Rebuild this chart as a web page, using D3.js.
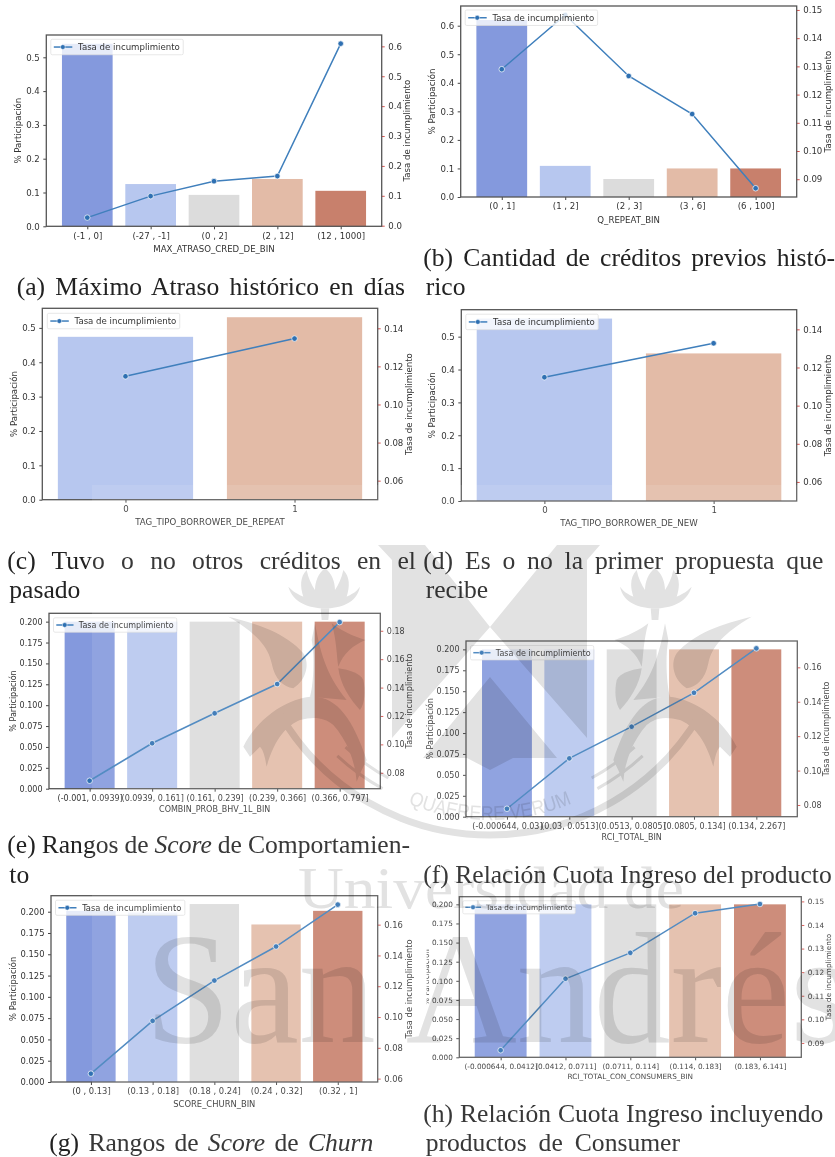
<!DOCTYPE html>
<html>
<head>
<meta charset="utf-8">
<script src="https://cdn.jsdelivr.net/npm/d3@7"></script>
<style>
  html, body { margin: 0; padding: 0; background: #fff; }
  svg { display: block; }
  .plot text { font-family: "DejaVu Sans", sans-serif; fill: #333; }
  .caption { font-family: "Liberation Serif", serif; fill: #222; font-size: 25.6px; }
</style>
</head>
<body>
<div id="chart"></div>
<script>
const legendLabel = "Tasa de incumplimiento";
const leftLabel = "% Participación";

// (a)
const catsA = ["(-1 , 0]", "(-27 , -1]", "(0 , 2]", "(2 , 12]", "(12 , 1000]"];
const barsA = [0.54, 0.125, 0.093, 0.14, 0.105];
const rateA = [0.027, 0.099, 0.149, 0.166, 0.609];
// (b)
const catsB = ["(0 , 1]", "(1 , 2]", "(2 , 3]", "(3 , 6]", "(6 , 100]"];
const barsB = [0.62, 0.109, 0.063, 0.1, 0.1];
const rateB = [0.129, 0.1482, 0.1266, 0.1131, 0.0868];
// (c)
const catsC = ["0", "1"];
const barsC = [0.474, 0.531];
const rateC = [0.1148, 0.1346];
// (d)
const catsD = ["0", "1"];
const barsD = [0.555, 0.449];
const rateD = [0.1149, 0.1327];
// (e)
const catsE = ["(-0.001, 0.0939]", "(0.0939, 0.161]", "(0.161, 0.239]", "(0.239, 0.366]", "(0.366, 0.797]"];
const barsE = [0.2, 0.2, 0.2, 0.2, 0.2];
const rateE = [0.0744, 0.1008, 0.1219, 0.1425, 0.1861];
// (f)
const catsF = ["(-0.000644, 0.03]", "(0.03, 0.0513]", "(0.0513, 0.0805]", "(0.0805, 0.134]", "(0.134, 2.267]"];
const barsF = [0.2, 0.2, 0.2, 0.2, 0.2];
const rateF = [0.0778, 0.1071, 0.1255, 0.1452, 0.171];
// (g)
const catsG = ["(0 , 0.13]", "(0.13 , 0.18]", "(0.18 , 0.24]", "(0.24 , 0.32]", "(0.32 , 1]"];
const barsG = [0.201, 0.199, 0.209, 0.185, 0.201];
const rateG = [0.0632, 0.0975, 0.1237, 0.1458, 0.173];
// (h)
const catsH = ["(-0.000644, 0.0412]", "(0.0412, 0.0711]", "(0.0711, 0.114]", "(0.114, 0.183]", "(0.183, 6.141]"];
const barsH = [0.2, 0.2, 0.2, 0.2, 0.2];
const rateH = [0.0869, 0.1172, 0.1282, 0.145, 0.1489];

const ticksTenth = [0, 0.1, 0.2, 0.3, 0.4, 0.5];
const ticksQuarter = [0, 0.025, 0.05, 0.075, 0.1, 0.125, 0.15, 0.175, 0.2];

const coolwarm5 = ["#8499dd", "#b7c7ef", "#dcdcdc", "#e3bba7", "#c8806c"];
const coolwarm2 = ["#b7c7ef", "#e3bba7"];

const width = 835, height = 1157;

const svg = d3.select("#chart").append("svg").attr("width", width).attr("height", height);
svg.append("rect").attr("width", width).attr("height", height).attr("fill", "#fff");

const defs = svg.append("defs");
defs.append("filter").attr("id", "soft")
    .attr("filterUnits", "userSpaceOnUse")
    .attr("x", 0).attr("y", 0).attr("width", width).attr("height", height)
    .append("feGaussianBlur").attr("stdDeviation", 0.55);

const page = svg.append("g").attr("filter", "url(#soft)");

function drawPanel(p) {
    const g = page.append("g").attr("class", "plot");
    const w = p.right - p.left;
    const n = p.cats.length;

    const x = d3.scaleLinear().domain([-p.pad, n - 1 + p.pad]).range([p.left, p.right]);
    const yLeft = d3.scaleLinear().domain([0, p.leftTop]).range([p.bottom, p.top]);
    const yRight = d3.scaleLinear().domain(p.rightDomain).range([p.bottom, p.top]);
    const bandW = x(0.8) - x(0);

    g.selectAll(".bar")
        .data(p.bars)
        .enter()
        .append("rect")
        .attr("class", "bar")
        .attr("x", (d, i) => x(i) - bandW / 2)
        .attr("y", d => yLeft(d))
        .attr("width", bandW)
        .attr("height", d => yLeft(0) - yLeft(d))
        .attr("fill", (d, i) => p.colors[i]);

    const line = d3.line().x((d, i) => x(i)).y(d => yRight(d));
    g.append("path")
        .datum(p.rate)
        .attr("fill", "none")
        .attr("stroke", "#3f7fbc")
        .attr("stroke-width", 1.5)
        .attr("d", line);

    g.selectAll(".dot")
        .data(p.rate)
        .enter()
        .append("circle")
        .attr("class", "dot")
        .attr("cx", (d, i) => x(i))
        .attr("cy", d => yRight(d))
        .attr("r", 2.8)
        .attr("fill", "#2f70b2")
        .attr("stroke", "#fff")
        .attr("stroke-width", 0.7);

    // axes
    const axisX = g.append("g")
        .attr("transform", `translate(0,${p.bottom})`)
        .call(d3.axisBottom(x).tickValues(d3.range(n)).tickFormat(i => p.cats[i]).tickSize(3).tickPadding(3.2));
    const axisL = g.append("g")
        .attr("transform", `translate(${p.left},0)`)
        .call(d3.axisLeft(yLeft).tickValues(p.leftTicks).tickFormat(d3.format(p.leftFormat)).tickSize(3).tickPadding(3.5));
    const axisR = g.append("g")
        .attr("transform", `translate(${p.right},0)`)
        .call(d3.axisRight(yRight).tickValues(p.rightTicks).tickFormat(d3.format(p.rightFormat)).tickSize(3).tickPadding(3.5));

    [axisX, axisL, axisR].forEach(a => {
        a.select(".domain").remove();
        a.selectAll("text").attr("font-size", p.fs).attr("fill", "#333");
    });
    axisX.selectAll("line").attr("stroke", "#444");
    axisL.selectAll("line").attr("stroke", "#444");
    axisR.selectAll("line").attr("stroke", "#d9534f");

    g.append("rect")
        .attr("x", p.left).attr("y", p.top)
        .attr("width", w).attr("height", p.bottom - p.top)
        .attr("fill", "none").attr("stroke", "#555").attr("stroke-width", 1.3);

    // axis titles
    g.append("text")
        .attr("x", (p.left + p.right) / 2)
        .attr("y", p.bottom + p.xTitle)
        .attr("dy", "0.35em")
        .attr("text-anchor", "middle")
        .attr("font-size", p.fs)
        .text(p.xLabel);

    const lt = g.append("text")
        .attr("transform", `translate(${p.left - p.leftTitle},${(p.top + p.bottom) / 2}) rotate(-90)`)
        .attr("dy", "0.35em")
        .attr("text-anchor", "middle")
        .attr("font-size", p.fs)
        .text(leftLabel);
    if (p.clipLeftTitle) {
        const id = "clip-left-title";
        defs.append("clipPath").attr("id", id).append("rect")
            .attr("x", -60).attr("y", 0).attr("width", 120).attr("height", 8);
        lt.attr("clip-path", `url(#${id})`);
    }

    g.append("text")
        .attr("transform", `translate(${p.right + p.rightTitle},${(p.top + p.bottom) / 2}) rotate(-90)`)
        .attr("dy", "0.35em")
        .attr("text-anchor", "middle")
        .attr("font-size", p.fs)
        .text(legendLabel);

    // legend box
    const lx = p.left + p.legendDx, ly = p.top + p.legendDy;
    const lw = p.fs * 15.4, lh = p.fs * 1.8;
    const legend = g.append("g").attr("transform", `translate(${lx},${ly})`);
    legend.append("rect")
        .attr("width", lw).attr("height", lh).attr("rx", 1.5)
        .attr("fill", "#fff").attr("fill-opacity", 0.8)
        .attr("stroke", "#ddd").attr("stroke-width", 0.7);
    legend.append("line")
        .attr("x1", p.fs * 0.35).attr("x2", p.fs * 2.5)
        .attr("y1", lh / 2).attr("y2", lh / 2)
        .attr("stroke", "#3f7fbc").attr("stroke-width", 1.5);
    legend.append("circle")
        .attr("cx", p.fs * 1.4).attr("cy", lh / 2).attr("r", 2.4)
        .attr("fill", "#2f70b2").attr("stroke", "#fff").attr("stroke-width", 0.5);
    legend.append("text")
        .attr("x", p.fs * 3.17).attr("y", lh / 2).attr("dy", "0.35em")
        .attr("font-size", p.fs)
        .text(legendLabel);
}

const panels = [
    { cats: catsA, bars: barsA, rate: rateA, xLabel: "MAX_ATRASO_CRED_DE_BIN", colors: coolwarm5,
      left: 46.3, right: 381.7, top: 35, bottom: 226.3, pad: 0.647, leftTop: 0.566, rightDomain: [-0.002, 0.638],
      leftTicks: ticksTenth, leftFormat: ".1f", rightTicks: [0, 0.1, 0.2, 0.3, 0.4, 0.5, 0.6], rightFormat: ".1f",
      fs: 8.6, xTitle: 22.7, leftTitle: 28, rightTitle: 25.7, legendDx: 4.5, legendDy: 4.3 },
    { cats: catsB, bars: barsB, rate: rateB, xLabel: "Q_REPEAT_BIN", colors: coolwarm5,
      left: 460.7, right: 796.7, top: 6, bottom: 197, pad: 0.647, leftTop: 0.669, rightDomain: [0.0837, 0.1514],
      leftTicks: [0, 0.1, 0.2, 0.3, 0.4, 0.5, 0.6], leftFormat: ".1f", rightTicks: [0.09, 0.1, 0.11, 0.12, 0.13, 0.14, 0.15], rightFormat: ".2f",
      fs: 8.6, xTitle: 23, leftTitle: 28.3, rightTitle: 31.7, legendDx: 4.5, legendDy: 4 },
    { cats: catsC, bars: barsC, rate: rateC, xLabel: "TAG_TIPO_BORROWER_DE_REPEAT", colors: coolwarm2,
      left: 42.3, right: 377.7, top: 308.3, bottom: 499.7, pad: 0.492, leftTop: 0.557, rightDomain: [0.05, 0.1505],
      leftTicks: ticksTenth, leftFormat: ".1f", rightTicks: [0.06, 0.08, 0.1, 0.12, 0.14], rightFormat: ".2f",
      fs: 8.6, xTitle: 22.3, leftTitle: 28.3, rightTitle: 31, legendDx: 5, legendDy: 5 },
    { cats: catsD, bars: barsD, rate: rateD, xLabel: "TAG_TIPO_BORROWER_DE_NEW", colors: coolwarm2,
      left: 461.3, right: 796.7, top: 309.7, bottom: 501, pad: 0.491, leftTop: 0.582, rightDomain: [0.05, 0.1503],
      leftTicks: ticksTenth, leftFormat: ".1f", rightTicks: [0.06, 0.08, 0.1, 0.12, 0.14], rightFormat: ".2f",
      fs: 8.6, xTitle: 22, leftTitle: 29, rightTitle: 31.7, legendDx: 4.5, legendDy: 4.5 },
    { cats: catsE, bars: barsE, rate: rateE, xLabel: "COMBIN_PROB_BHV_1L_BIN", colors: coolwarm5,
      left: 49, right: 380.3, top: 613.3, bottom: 788.7, pad: 0.65, leftTop: 0.21, rightDomain: [0.0688, 0.1923],
      leftTicks: ticksQuarter, leftFormat: ".3f", rightTicks: [0.08, 0.1, 0.12, 0.14, 0.16, 0.18], rightFormat: ".2f",
      fs: 8, xTitle: 20.3, leftTitle: 35.7, rightTitle: 29, legendDx: 4.5, legendDy: 4.5 },
    { cats: catsF, bars: barsF, rate: rateF, xLabel: "RCI_TOTAL_BIN", colors: coolwarm5,
      left: 466, right: 797.3, top: 641, bottom: 816.7, pad: 0.657, leftTop: 0.21, rightDomain: [0.0732, 0.1753],
      leftTicks: ticksQuarter, leftFormat: ".3f", rightTicks: [0.08, 0.1, 0.12, 0.14, 0.16], rightFormat: ".2f",
      fs: 8, xTitle: 20.7, leftTitle: 36, rightTitle: 28.7, legendDx: 4.5, legendDy: 4.5 },
    { cats: catsG, bars: barsG, rate: rateG, xLabel: "SCORE_CHURN_BIN", colors: coolwarm5,
      left: 51, right: 377.7, top: 895.7, bottom: 1082, pad: 0.647, leftTop: 0.2188, rightDomain: [0.0578, 0.1788],
      leftTicks: ticksQuarter, leftFormat: ".3f", rightTicks: [0.06, 0.08, 0.1, 0.12, 0.14, 0.16], rightFormat: ".2f",
      fs: 8.4, xTitle: 22, leftTitle: 38.3, rightTitle: 31, legendDx: 4.5, legendDy: 4.5 },
    { cats: catsH, bars: barsH, rate: rateH, xLabel: "RCI_TOTAL_CON_CONSUMERS_BIN", colors: coolwarm5,
      left: 459.3, right: 801.3, top: 896.7, bottom: 1057.3, pad: 0.638, leftTop: 0.21, rightDomain: [0.0839, 0.152],
      leftTicks: ticksQuarter, leftFormat: ".3f", rightTicks: [0.09, 0.1, 0.11, 0.12, 0.13, 0.14, 0.15], rightFormat: ".2f",
      fs: 7.3, xTitle: 19, leftTitle: 32.7, rightTitle: 27, legendDx: 3.5, legendDy: 4, clipLeftTitle: true }
];

panels.forEach(drawPanel);

// captions, each word-spaced out to its measured width like the justified LaTeX lines
const captions = [
    { parts: [["(a) Máximo Atraso histórico en días"]], x0: 16.7, x1: 405, y: 294.7 },
    { parts: [["(b) Cantidad de créditos previos histó-"]], x0: 423.3, x1: 835, y: 266 },
    { parts: [["rico"]], x0: 425.7, y: 295 },
    { parts: [["(c) Tuvo o no otros créditos en el"]], x0: 7.3, x1: 416, y: 569.3 },
    { parts: [["pasado"]], x0: 9.3, y: 597.7 },
    { parts: [["(d) Es o no la primer propuesta que"]], x0: 423.3, x1: 823.3, y: 569.3 },
    { parts: [["recibe"]], x0: 425.7, y: 597.7 },
    { parts: [["(e) Rangos de "], ["Score", 1], [" de Comportamien-"]], x0: 7.3, x1: 410, y: 853.3 },
    { parts: [["to"]], x0: 9.3, y: 882.7 },
    { parts: [["(f) Relación Cuota Ingreso del producto"]], x0: 423.3, x1: 831.7, y: 882.7 },
    { parts: [["(g) Rangos de "], ["Score", 1], [" de "], ["Churn", 1]], x0: 49.3, x1: 373.3, y: 1150.7 },
    { parts: [["(h) Relación Cuota Ingreso incluyendo"]], x0: 423.3, x1: 823.3, y: 1121.7 },
    { parts: [["productos de Consumer"]], x0: 425.7, x1: 680, y: 1150.7 }
];

captions.forEach(c => {
    const t = page.append("text").attr("class", "caption").attr("x", c.x0).attr("y", c.y);
    c.parts.forEach(([s, italic]) => {
        t.append("tspan").attr("font-style", italic ? "italic" : null).text(s);
    });
    if (c.x1) {
        const spaces = c.parts.map(d => d[0]).join("").split(" ").length - 1;
        const natural = t.node().getComputedTextLength();
        t.attr("word-spacing", (c.x1 - c.x0 - natural) / spaces);
    }
});

// lighter box of the scanned page: it starts at x=92, y=485
svg.append("rect")
    .attr("x", 92).attr("y", 485)
    .attr("width", width - 92).attr("height", height - 485)
    .attr("fill", "#fff").attr("fill-opacity", 0.1);

// university watermark, multiplied over everything
const mark = svg.append("g")
    .style("mix-blend-mode", "multiply")
    .attr("fill", "#e2e2e2")
    .attr("font-family", "Liberation Serif, serif");

mark.append("text")
    .attr("x", 298).attr("y", 908)
    .attr("font-size", 60)
    .attr("textLength", 386).attr("lengthAdjust", "spacingAndGlyphs")
    .text("Universidad de");
mark.append("text")
    .attr("x", 145).attr("y", 1042)
    .attr("font-size", 158)
    .attr("textLength", 705).attr("lengthAdjust", "spacingAndGlyphs")
    .text("San Andrés");

// M of the crest
const crest = [
    [[378, 545], [425, 545], [490, 627], [392, 738], [392, 560]],
    [[557, 545], [600, 545], [587, 560], [587, 738], [490, 627]],
    [[490, 677], [557, 758], [513, 758], [490, 770], [467, 758], [423, 758]]
];
crest.forEach(pts => mark.append("path").attr("d", d3.line()(pts) + "Z"));

// thistle of the left side, mirrored about the crest axis
const thistle = [
    "M375 205 C330 205 280 190 265 140 C285 160 300 165 310 170 C300 140 300 110 320 90 C325 115 335 135 345 150 C345 125 355 100 375 85 C395 100 405 125 405 150 C415 135 425 115 430 90 C450 110 450 140 440 170 C450 165 465 160 480 140 C470 190 420 205 375 205 Z",
    "M362 205 L388 205 L385 240 L365 240 Z",
    "M85 230 C170 250 260 280 310 340 C330 370 320 420 280 445 C250 440 225 420 215 370 C205 320 170 280 85 230 Z",
    "M130 620 C170 540 250 480 330 470 C410 465 460 540 500 660 C490 680 480 700 470 725 C465 660 440 600 400 555 C370 530 340 530 300 540 C265 555 225 590 200 680 C195 650 190 630 180 620 C170 630 160 640 150 650 Z",
    "M345 250 C360 330 375 400 440 480 L330 470 C340 440 345 350 335 300 Z",
    "M395 250 C410 300 410 350 415 380 C430 340 460 315 497 300 C460 290 420 270 395 250 Z",
    "M415 385 C420 430 450 480 480 510 C495 490 497 450 490 420 C480 400 450 390 415 385 Z"
];
const thistleLeft = mark.append("g").attr("transform", "translate(200,540) scale(0.3333)");
const thistleRight = mark.append("g").attr("transform", "translate(980,0) scale(-1,1) translate(200,540) scale(0.3333)");
thistle.forEach(d => {
    thistleLeft.append("path").attr("d", d);
    thistleRight.append("path").attr("d", d);
});

// ring under the crest and its motto
const ringPath = (r, cy, from, to) => {
    const pt = a => [490 + r * Math.sin(a), cy + r * Math.cos(a)];
    const [x0, y0] = pt(from), [x1, y1] = pt(to);
    return `M ${x0} ${y0} A ${r} ${r} 0 0 0 ${x1} ${y1}`;
};
mark.append("path")
    .attr("d", ringPath(243, 592, -1.05, 1.05))
    .attr("fill", "none").attr("stroke", "#e2e2e2").attr("stroke-width", 7);
[[-0.75, -0.5], [0.5, 0.75]].forEach(([a, b]) => {
    [212, 224].forEach(r => {
        mark.append("path")
            .attr("d", ringPath(r, 592, a, b))
            .attr("fill", "none").attr("stroke", "#e2e2e2").attr("stroke-width", 3);
    });
});
mark.append("path")
    .attr("id", "motto-arc")
    .attr("d", ringPath(210, 610, -0.6, 0.6))
    .attr("fill", "none");
mark.append("text")
    .attr("font-family", "Liberation Sans, sans-serif")
    .attr("font-size", 20)
    .append("textPath")
    .attr("href", "#motto-arc")
    .attr("startOffset", "50%")
    .attr("text-anchor", "middle")
    .attr("textLength", 168)
    .attr("lengthAdjust", "spacingAndGlyphs")
    .text("QUAERERE VERUM");
</script>
</body>
</html>
